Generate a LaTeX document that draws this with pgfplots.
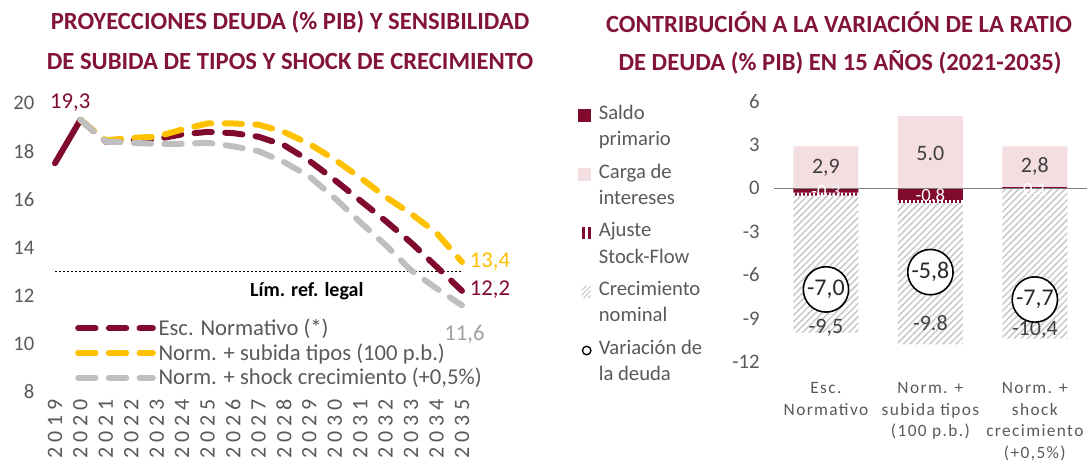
\documentclass[border=0pt]{standalone}
\usepackage{fontspec}
\setmainfont{Carlito}
\usepackage{pgfplots}
\pgfplotsset{compat=1.18}
\usetikzlibrary{patterns.meta}
\definecolor{maroon}{RGB}{128,10,45}
\definecolor{titlec}{RGB}{130,20,55}
\definecolor{gold}{RGB}{255,192,0}
\definecolor{lgrey}{RGB}{191,191,191}
\definecolor{pinkc}{RGB}{245,222,226}
\definecolor{txt}{RGB}{89,89,89}
\definecolor{hatch}{RGB}{200,200,200}
\definecolor{dark}{RGB}{64,64,64}
\definecolor{circtxt}{RGB}{40,40,40}
\definecolor{lab}{RGB}{160,160,160}
\newcommand\yearfont{\fontsize{16.5}{18}\selectfont\addfontfeature{LetterSpace=22}}
\newcommand\tfont{\fontsize{18.5}{22}\selectfont\bfseries}
\pgfplotsset{
  rbase/.style={at={(580.3pt,75.3pt)}, anchor=south west, scale only axis,
    width=235pt, height=194.9pt, xmin=-0.5, xmax=2.5, ymin=-12, ymax=6},
  rbars/.style={rbase, hide axis, ybar stacked, bar width=48.75pt},
}
\begin{document}
\begin{tikzpicture}[x=0.75pt,y=0.75pt]
\useasboundingbox (0,0) rectangle (1089,462);
\node[font=\tfont, text=titlec] at (290,440) {PROYECCIONES DEUDA (\% PIB) Y SENSIBILIDAD};
\node[font=\tfont, text=titlec] at (290,400) {DE SUBIDA DE TIPOS Y SHOCK DE CRECIMIENTO};
\node[font=\tfont, text=titlec] at (839,440) {CONTRIBUCIÓN A LA VARIACIÓN DE LA RATIO};
\node[font=\tfont, text=titlec] at (840,400) {DE DEUDA (\% PIB) EN 15 AÑOS (2021-2035)};

% ---------------- left chart
\begin{axis}[
  at={(41.25pt,52.5pt)}, anchor=south west, scale only axis,
  width=305.25pt, height=216.75pt,
  xmin=2019, xmax=2035, ymin=8, ymax=20,
  axis line style={draw=none}, major tick length=0pt,
  xtick={2019,...,2035}, ytick={8,10,...,20},
  /pgf/number format/assume math mode=true,
  /pgf/number format/1000 sep={},
  xticklabel style={rotate=90, anchor=east, font=\yearfont, text=txt, xshift=-2pt},
  yticklabel style={font=\fontsize{15.5}{18}\selectfont, text=txt, xshift=-12pt},
  clip=false,
  legend style={draw=none, fill=none, at={(0.049,0.263)}, anchor=north west,
    font=\fontsize{17}{20}\selectfont, text=txt, row sep=0.6pt, inner sep=0pt},
  legend cell align=left,
  legend image code/.code={\draw[#1] (0pt,0pt) -- (56pt,0pt);},
]
\addplot[black, line width=1pt, dash pattern=on 1.5pt off 1.5pt, forget plot]
  coordinates {(2019,13) (2035,13)};
\addplot[maroon, line width=4.5pt, line cap=round, forget plot]
  coordinates {(2019,17.5) (2020,19.3)};
\addplot[maroon, line width=4.5pt, line cap=round, dash pattern=on 13pt off 10pt]
  coordinates {(2020,19.3) (2021,18.4) (2022,18.45) (2023,18.5) (2024,18.7) (2025,18.8)
   (2026,18.75) (2027,18.6) (2028,18.25) (2029,17.6) (2030,16.8) (2031,15.95)
   (2032,15.1) (2033,14.2) (2034,13.2) (2035,12.2)};
\addlegendentry{Esc. Normativo (*)}
\addplot[gold, line width=4.5pt, line cap=round, dash pattern=on 13pt off 10pt]
  coordinates {(2020,19.3) (2021,18.45) (2022,18.55) (2023,18.6) (2024,18.9) (2025,19.15)
   (2026,19.15) (2027,19.1) (2028,18.8) (2029,18.3) (2030,17.65) (2031,16.9)
   (2032,16.1) (2033,15.4) (2034,14.6) (2035,13.4)};
\addlegendentry{Norm. + subida tipos (100 p.b.)}
\addplot[lgrey, line width=4.5pt, line cap=round, dash pattern=on 13pt off 10pt]
  coordinates {(2020,19.3) (2021,18.4) (2022,18.35) (2023,18.3) (2024,18.3) (2025,18.35)
   (2026,18.2) (2027,18.0) (2028,17.55) (2029,16.95) (2030,16.05) (2031,15.05)
   (2032,14.1) (2033,13.05) (2034,12.3) (2035,11.6)};
\addlegendentry{Norm. + shock crecimiento (+0,5\%)}
\node[font=\fontsize{17}{20}\selectfont, text=maroon] at (axis cs:2019.6,20.0) {19,3};
\node[font=\fontsize{17}{20}\selectfont, text=gold] at (axis cs:2036.1,13.4) {13,4};
\node[font=\fontsize{17}{20}\selectfont, text=maroon] at (axis cs:2036.1,12.25) {12,2};
\node[font=\fontsize{17}{20}\selectfont, text=lab] at (axis cs:2035.1,10.4) {11,6};
\node[font=\fontsize{15}{18}\selectfont\bfseries, text=black] at (axis cs:2028.9,12.2) {Lím. ref. legal};
\end{axis}

% ---------------- right chart: negative stack
\begin{axis}[rbars]
\addplot[fill=maroon, draw=none] coordinates {(0,-0.3) (1,-0.8) (2,0)};
\addplot[draw=none, pattern={Lines[angle=90,distance=3pt,line width=1.6pt]}, pattern color=maroon]
  coordinates {(0,-0.2) (1,-0.2) (2,0)};
\addplot[draw=none, pattern={Lines[angle=45,distance=3.5pt,line width=1.1pt]}, pattern color=hatch]
  coordinates {(0,-9.5) (1,-9.8) (2,-10.4)};
\end{axis}
% positive stack
\begin{axis}[rbars]
\addplot[fill=maroon, draw=none] coordinates {(0,0) (1,0) (2,0.1)};
\addplot[fill=pinkc, draw=none] coordinates {(0,2.9) (1,5.0) (2,2.8)};
\end{axis}
% main right axis
\begin{axis}[rbase,
  axis line style={draw=none}, major tick length=0pt,
  xtick={0,1,2},
  xticklabels={{Esc.\\Normativo},{Norm. +\\subida tipos\\(100 p.b.)},{Norm. +\\shock\\crecimiento\\(+0,5\%)}},
  xticklabel style={align=center, font=\fontsize{13}{16.2}\selectfont\addfontfeature{LetterSpace=8}, text=txt, yshift=-12pt},
  ytick={-12,-9,...,6},
  /pgf/number format/assume math mode=true,
  yticklabel style={font=\fontsize{15.5}{18}\selectfont, text=txt, xshift=-7pt},
  clip=false,
  legend style={draw=none, fill=none, at={(-0.625,0.999)}, anchor=north west,
    font=\fontsize{15.5}{20}\selectfont, text=txt, cells={align=left}, row sep=7.8pt, inner sep=0pt},
  legend cell align=left,
]
\addlegendimage{legend image code/.code={\path[draw=none,fill=none] (0pt,0pt) -- (13.5pt,0pt); \fill[maroon, draw=none] (0pt,3.5pt) rectangle (9.75pt,13pt);}}
\addlegendentry{Saldo\\primario}
\addlegendimage{legend image code/.code={\path[draw=none,fill=none] (0pt,0pt) -- (13.5pt,0pt); \fill[pinkc, draw=none] (0pt,3.5pt) rectangle (9.75pt,13pt);}}
\addlegendentry{Carga de\\intereses}
\addlegendimage{legend image code/.code={\path[draw=none,fill=none] (0pt,0pt) -- (13.5pt,0pt); \fill[maroon, draw=none] (3pt,3.5pt) rectangle (5pt,12.5pt); \fill[maroon, draw=none] (7.3pt,3.5pt) rectangle (9.3pt,12.5pt);}}
\addlegendentry{Ajuste\\Stock-Flow}
\addlegendimage{legend image code/.code={\path[draw=none,fill=none] (0pt,0pt) -- (13.5pt,0pt); \path[draw=none, pattern={Lines[angle=45,distance=2.5pt,line width=0.8pt]}, pattern color=hatch] (2.5pt,4pt) rectangle (9.75pt,12pt);}}
\addlegendentry{Crecimiento\\nominal}
\addlegendimage{legend image code/.code={\path[draw=none,fill=none] (0pt,0pt) -- (13.5pt,0pt); \draw[black, fill=none, line width=1pt] (6.4pt,8pt) circle (3.2pt);}}
\addlegendentry{Variación de\\la deuda}
\addplot[gray, line width=1.2pt, forget plot] coordinates {(-0.5,0) (2.5,0)};
\addplot[only marks, mark=*, mark size=17pt, mark options={fill=white, draw=black, line width=1.2pt},
  point meta=explicit symbolic, nodes near coords,
  every node near coord/.append style={anchor=center, font=\fontsize{18}{20}\selectfont, text=circtxt},
  forget plot]
  coordinates {(0,-7.0) [-7,0] (1,-5.8) [-5,8] (2,-7.7) [-7,7]};
\node[font=\fontsize{16.5}{18}\selectfont, text=dark] at (axis cs:0,1.45) {2,9};
\node[font=\fontsize{16.5}{18}\selectfont, text=dark] at (axis cs:1,2.45) {5.0};
\node[font=\fontsize{16.5}{18}\selectfont, text=dark] at (axis cs:2,1.5) {2,8};
\node[font=\fontsize{14}{16}\selectfont, text=white] at (axis cs:0,-0.3) {-0,3};
\node[font=\fontsize{14}{16}\selectfont, text=white] at (axis cs:1,-0.5) {-0.8};
\node[font=\fontsize{14}{16}\selectfont, text=white] at (axis cs:2,-0.15) {0,1};
\node[font=\fontsize{16.5}{18}\selectfont, text=dark] at (axis cs:0,-9.67) {-9,5};
\node[font=\fontsize{16.5}{18}\selectfont, text=dark] at (axis cs:1,-9.33) {-9.8};
\node[font=\fontsize{16.5}{18}\selectfont, text=dark] at (axis cs:2,-9.8) {-10,4};
\end{axis}
\end{tikzpicture}
\end{document}
